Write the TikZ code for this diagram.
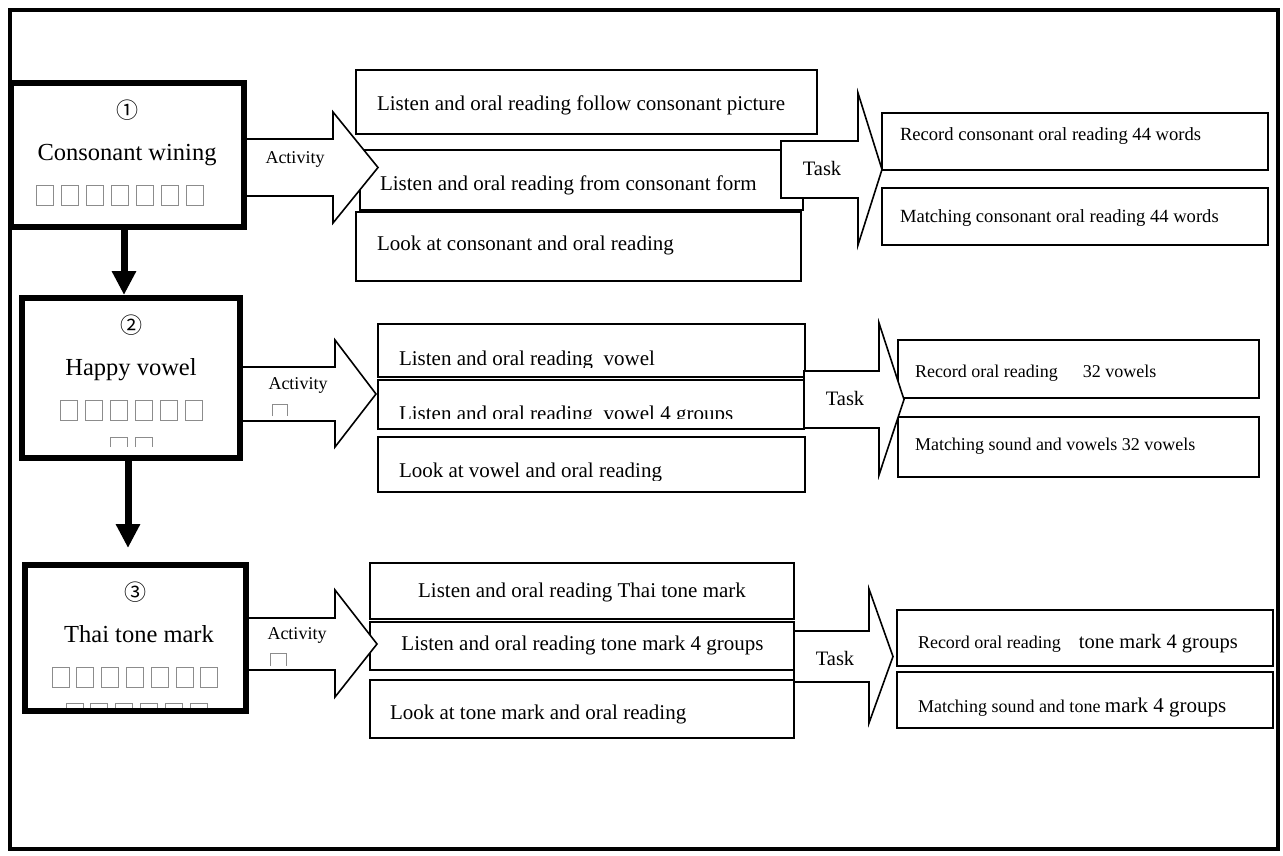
\documentclass[tikz,border=0pt]{standalone}
\usepackage{fontspec}
\setmainfont{Liberation Serif}
\newfontfamily\circfont{Noto Sans CJK SC}
\usetikzlibrary{arrows.meta,fit}
\newcommand\fsz[1]{\fontsize{#1}{#1}\selectfont}
\definecolor{tofugray}{gray}{0.55}
\tikzset{
  bigbox/.style={draw, line width=6pt, inner sep=0pt, outer sep=0pt},
  abox/.style={draw, line width=2pt, inner sep=0pt, outer sep=0pt, fill=white},
  blockarrow/.style={draw, fill=white, line width=1.6pt, line join=miter},
  downarrow/.style={line width=7pt, -{Triangle[width=23pt,length=24pt]}},
  txt/.style={inner sep=0pt, outer sep=0pt},
  tofu/.style={draw=tofugray, line width=1pt},
  big/.style={txt, font=\fsz{24.5}},
  circ/.style={txt, font=\circfont\fsz{22}},
  lab/.style={txt, font=\fsz{18}},
  act/.style={txt, font=\fsz{21}},
  res/.style={txt, font=\fsz{18}},
}
\begin{document}
\begin{tikzpicture}[x=1pt,y=-1pt]
\useasboundingbox (0,0) rectangle (1283,855);
\draw[line width=3.5pt] (10,10) rectangle (1278,849);

% ---------- row 1 boxes
\node[abox, fit={(356,70)(817,134)}] (A1) {};
\node[abox, fit={(360,150)(803,210)}] (A2) {};
\node[abox, fit={(356,212)(801,281)}] (A3) {};
\node[abox, fit={(882,113)(1268,170)}] (T1) {};
\node[abox, fit={(882,188)(1268,245)}] (T2) {};
% ---------- row 2 boxes
\node[abox, fit={(378,324)(805,377)}] (B1) {};
\node[abox, fit={(378,380)(804,429)}] (B2) {};
\node[abox, fit={(378,437)(805,492)}] (B3) {};
\node[abox, fit={(898,340)(1259,398)}] (C1) {};
\node[abox, fit={(898,417)(1259,477)}] (C2) {};
% ---------- row 3 boxes
\node[abox, fit={(370,563)(794,619)}] (D1) {};
\node[abox, fit={(370,622)(794,670)}] (D2) {};
\node[abox, fit={(370,680)(794,738)}] (D3) {};
\node[abox, fit={(897,610)(1273,666)}] (E1) {};
\node[abox, fit={(897,672)(1273,728)}] (E2) {};

% ---------- activity block arrows
\filldraw[blockarrow] (246,139) -- (333,139) -- (333,112) -- (378,167.5) -- (333,223) -- (333,196) -- (246,196);
\filldraw[blockarrow] (242,367) -- (335,367) -- (335,340) -- (376,394) -- (335,447) -- (335,421) -- (242,421);
\filldraw[blockarrow] (248,618) -- (335,618) -- (335,590) -- (377,644) -- (335,697) -- (335,670) -- (248,670);
% ---------- task block arrows
\filldraw[blockarrow] (781,141) -- (858,141) -- (858,93) -- (882,169.5) -- (858,245) -- (858,198) -- (781,198) -- cycle;
\filldraw[blockarrow] (804,371) -- (879,371) -- (879,323) -- (904,399.5) -- (879,475) -- (879,428) -- (804,428) -- cycle;
\filldraw[blockarrow] (794,631) -- (869,631) -- (869,589) -- (893,656.5) -- (869,723) -- (869,682) -- (794,682) -- cycle;

% ---------- main stage boxes
\node[bigbox, fit={(10.5,82.5)(244,227)}] (box1) {};
\node[bigbox, fit={(22,298)(240,458)}] (box2) {};
\node[bigbox, fit={(24.5,565)(246,711)}] (box3) {};

\draw[downarrow] ([xshift=-3.25pt]box1.south) -- ([xshift=-3.25pt,yshift=3pt]box1.south |- box2.north);
\draw[downarrow] ([xshift=-3pt]box2.south) -- ([xshift=-3pt,yshift=17pt]box2.south |- box3.north);

% ---------- tofu squares (missing glyphs)
\foreach \i in {0,...,6} {\draw[tofu] ({36+\i*25},185) rectangle ++(17,20);}
\foreach \i in {0,...,5} {\draw[tofu] ({60+\i*25},400) rectangle ++(17,20);}
\foreach \i in {0,1} {\draw[tofu] ({110+\i*25},447) -- ++(0,-10) -- ++(17,0) -- ++(0,10);}
\foreach \i in {0,...,6} {\draw[tofu] ({52+\i*24.8},667) rectangle ++(17,20);}
\foreach \i in {0,...,5} {\draw[tofu] ({66+\i*24.8},707.5) -- ++(0,-4) -- ++(17,0) -- ++(0,4);}
\draw[tofu] (272,416) -- (272,404) -- (287,404) -- (287,416);
\draw[tofu] (270,666) -- (270,653) -- (286,653) -- (286,666);

% ---------- stage texts
\node[circ] (n1) at (127,110) {①};
\node[big, anchor=base] (l1) at (127,160) {Consonant wining};
\node[circ] (n2) at (131,325) {②};
\node[big, anchor=base] (l2) at (131,375) {Happy vowel};
\node[circ] (n3) at (135,592) {③};
\node[big, anchor=base] (l3) at (139,642) {Thai tone mark};

% ---------- arrow labels
\node[lab, anchor=base] (act1) at (295,163) {Activity};
\node[lab, anchor=base] (act2) at (298,389) {Activity};
\node[lab, anchor=base] (act3) at (297,639) {Activity};
\node[txt, font=\fsz{20.5}, anchor=base] (task1) at (822,175) {Task};
\node[txt, font=\fsz{20.5}, anchor=base] (task2) at (845,405) {Task};
\node[txt, font=\fsz{20.5}, anchor=base] (task3) at (835,665) {Task};

% ---------- row 1 texts
\node[act, anchor=base west] (tA1) at (377,110) {Listen and oral reading follow consonant picture};
\node[act, anchor=base west] (tA2) at (380,190) {Listen and oral reading from consonant form};
\node[act, anchor=base west] (tA3) at (377,250) {Look at consonant and oral reading};
\node[res, font=\fsz{18.6}, anchor=base west] (tT1) at (900,140) {Record consonant oral reading 44 words};
\node[res, font=\fsz{18.6}, anchor=base west] (tT2) at (900,222) {Matching consonant oral reading 44 words};

% ---------- row 2 texts (cut at the bottom)
\begin{scope}
\clip (378,324) rectangle (805,367);
\node[act, anchor=base west] (tB1) at (399,365.5) {Listen and oral reading\ \ vowel};
\end{scope}
\begin{scope}
\clip (378,380) rectangle (805,418);
\node[act, anchor=base west] (tB2) at (399,420) {Listen and oral reading\ \ vowel 4 groups};
\end{scope}
\begin{scope}
\clip (378,437) rectangle (805,480);
\node[act, anchor=base west] (tB3) at (399,477) {Look at vowel and oral reading};
\end{scope}
\node[res, anchor=base west] (tC1) at (915,377) {Record oral reading\hspace{25pt}32 vowels};
\node[res, anchor=base west] (tC2) at (915,450) {Matching sound and vowels 32 vowels};

% ---------- row 3 texts
\node[act, anchor=base] (tD1) at (582,597) {Listen and oral reading Thai tone mark};
\node[act, anchor=base] (tD2) at (582.5,650) {Listen and oral reading tone mark 4 groups};
\node[act, anchor=base west] (tD3) at (390,719) {Look at tone mark and oral reading};
\node[res, anchor=base west] (tE1) at (918,648) {Record oral reading\hspace{18pt}{\fsz{20.5}tone mark 4 groups}};
\node[res, anchor=base west] (tE2) at (918,712) {Matching sound and tone {\fsz{21}mark 4 groups}};
\end{tikzpicture}
\end{document}
